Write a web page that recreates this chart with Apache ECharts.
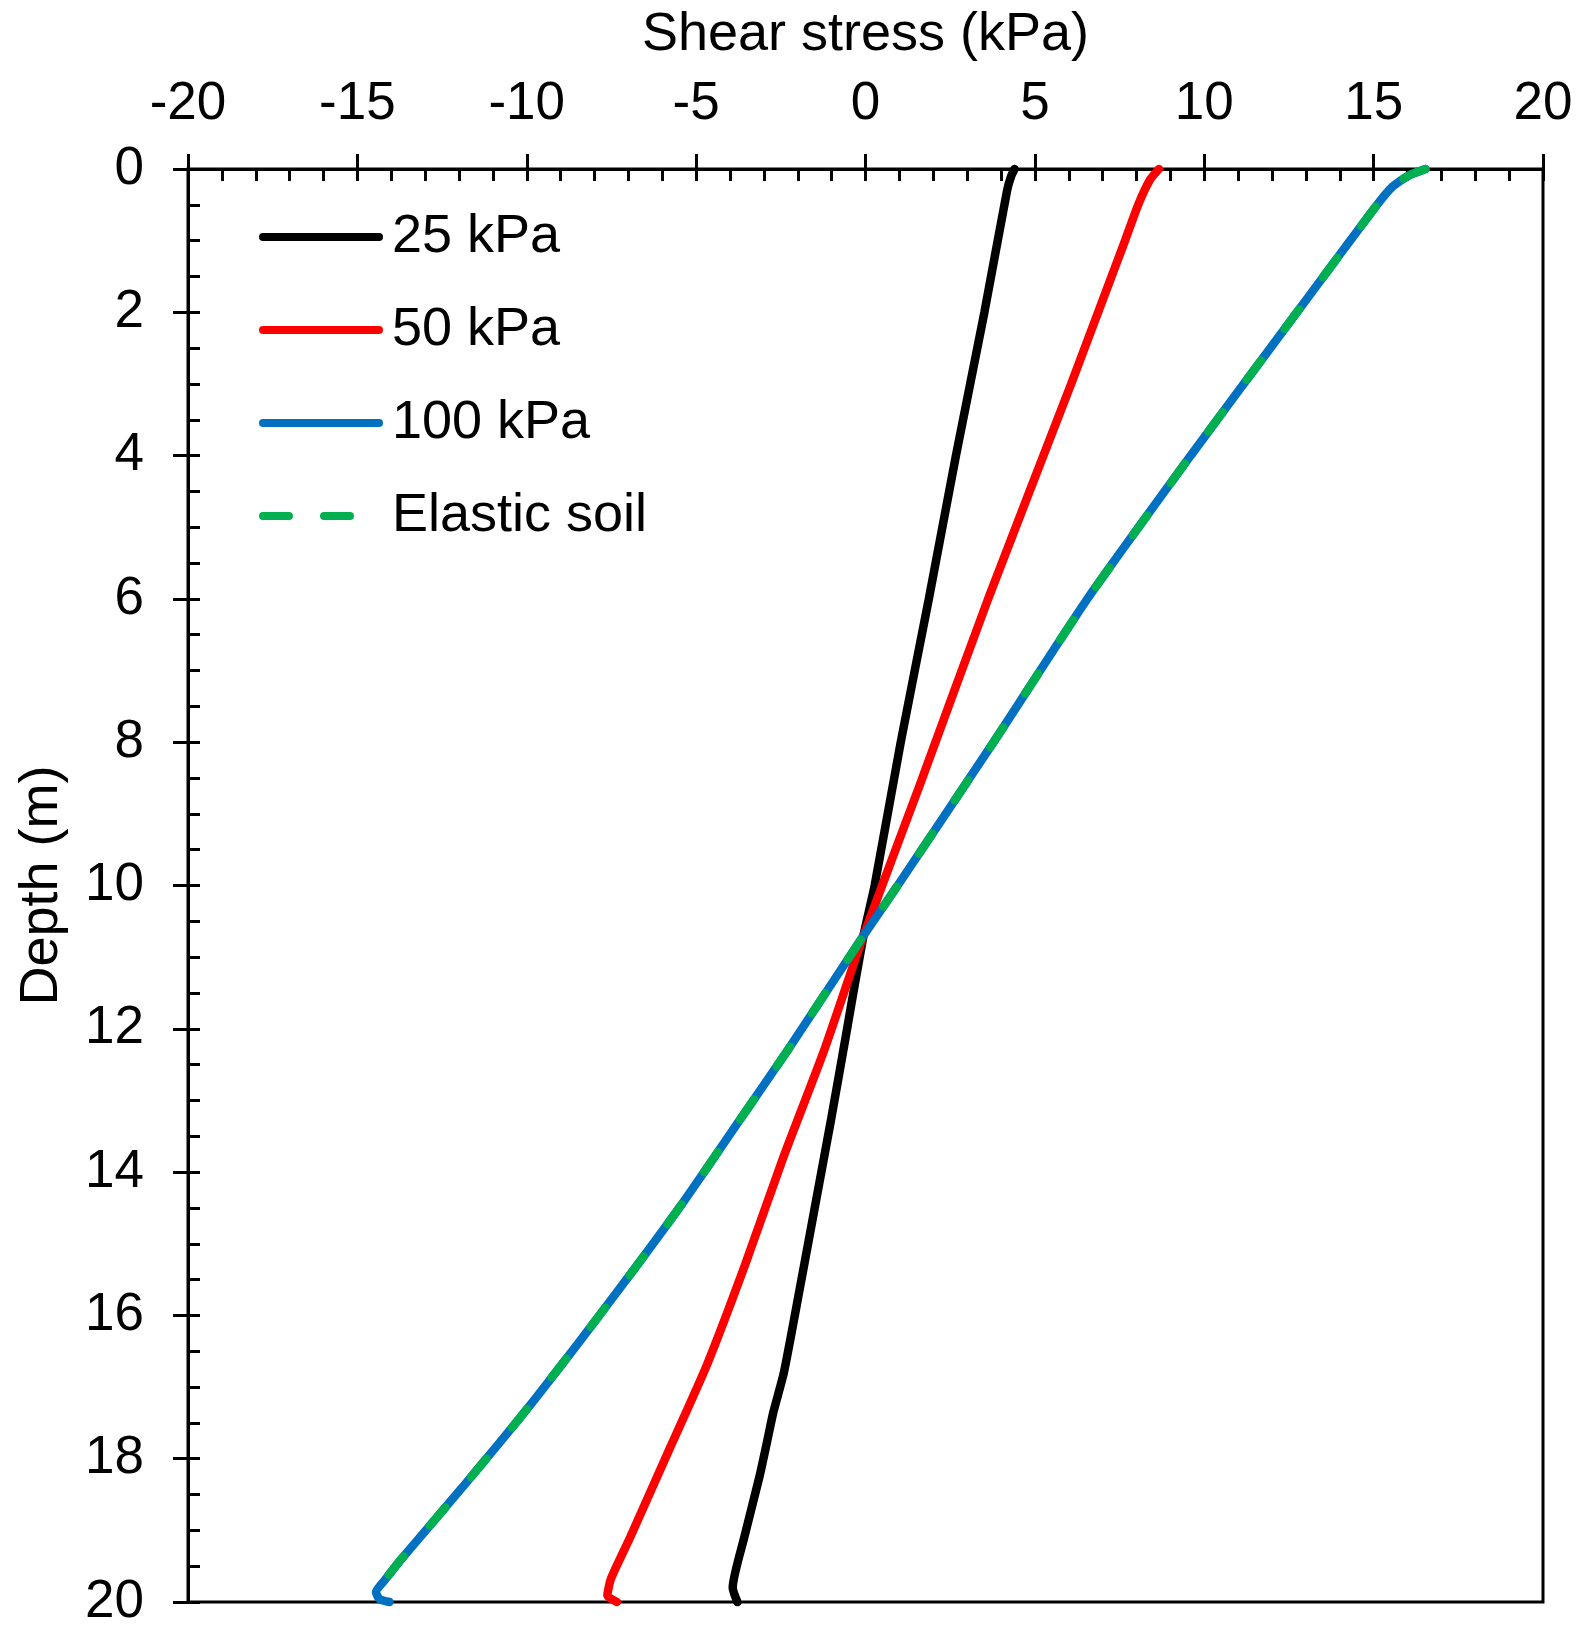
<!DOCTYPE html>
<html>
<head>
<meta charset="utf-8">
<script src="https://cdn.jsdelivr.net/npm/echarts@6/dist/echarts.min.js"></script>
<style>
html,body{margin:0;padding:0;background:#fff;}
#chart{width:1583px;height:1627px;}
</style>
</head>
<body>
<div id="chart"></div>
<script>
// ---- Data ----
const xTicks = [-20, -15, -10, -5, 0, 5, 10, 15, 20];
const yTicks = [0, 2, 4, 6, 8, 10, 12, 14, 16, 18, 20];
const seriesNames = ['25 kPa', '50 kPa', '100 kPa', 'Elastic soil'];

const depth25 = [0, 0.1, 0.3, 2, 4, 6, 8, 10, 10.7, 12.1, 13.25, 14.4, 15.6, 16.8, 17.35, 17.75, 18.25, 19.1, 19.8, 20];
const shear25 = [4.40, 4.30, 4.18, 3.51, 2.67, 1.87, 1.04, 0.27, -0.06, -0.58, -1.01, -1.46, -1.93, -2.41, -2.72, -2.90, -3.13, -3.58, -3.92, -3.78];

const depth50 = [0, 0.15, 0.5, 1, 3, 6, 8.6, 10.7, 12.3, 13.8, 15.3, 16.7, 17.9, 19.1, 19.67, 19.91, 20];
const shear50 = [8.66, 8.40, 8.05, 7.66, 6.07, 3.62, 1.60, -0.06, -1.22, -2.43, -3.56, -4.69, -5.82, -6.95, -7.51, -7.62, -7.34];

const depth100 = [0, 0.1, 0.25, 0.5, 1.1, 2.5, 4, 6, 8, 10, 10.7, 12.3, 13.3, 14.4, 15.4, 16.4, 17.4, 18.4, 19.4, 19.7, 19.86, 19.96, 20];
const shear100 = [16.53, 16.00, 15.55, 15.10, 14.15, 11.95, 9.60, 6.55, 3.78, 0.95, -0.06, -2.30, -3.75, -5.35, -6.90, -8.50, -10.15, -11.90, -13.70, -14.20, -14.45, -14.35, -14.05];

const depthElastic = [0, 0.1, 0.25, 0.5, 1.1, 2.5, 4, 6, 8, 10, 10.7, 12.3, 13.3, 14.4, 15.4, 16.4, 17.4, 18.4, 19.4, 19.7, 19.86, 19.96, 20];
const shearElastic = [16.53, 16.00, 15.55, 15.10, 14.15, 11.95, 9.60, 6.55, 3.78, 0.95, -0.06, -2.30, -3.75, -5.35, -6.90, -8.50, -10.15, -11.90, -13.70, -14.20, -14.45, -14.35, -14.05];

// ---- Chart ----
const FONT = '"Liberation Sans", Arial, Helvetica, sans-serif';
const COLORS = ['#000000', '#FF0000', '#0070C0', '#00B050'];
function pairs(xs, ys) { return xs.map((x, i) => [x, ys[i]]); }

const chart = echarts.init(document.getElementById('chart'), null, {renderer: 'canvas'});

const xMin = xTicks[0], xMax = xTicks[xTicks.length - 1], xInt = xTicks[1] - xTicks[0];
const yMin = yTicks[0], yMax = yTicks[yTicks.length - 1], yInt = yTicks[1] - yTicks[0];

const baseX = {
  type: 'value', min: xMin, max: xMax, interval: xInt, position: 'top',
  splitLine: {show: false}
};
const baseY = {
  type: 'value', min: yMin, max: yMax, interval: yInt, inverse: true, position: 'left',
  splitLine: {show: false}
};

const LW = 8.5;
const DASH = [24, 40];

function lineSeries(idx, xs, ys, dashed) {
  const color = COLORS[idx];
  return {
    name: seriesNames[idx], type: 'line', data: pairs(xs, ys),
    xAxisIndex: 0, yAxisIndex: 0,
    showSymbol: false, symbol: 'none', smooth: 0.2, clip: false,
    lineStyle: dashed
      ? {color: color, width: LW, type: DASH, cap: 'round'}
      : {color: color, width: LW, type: 'solid', cap: 'round'},
    itemStyle: {color: color},
    emphasis: {disabled: true},
    z: 5 + idx
  };
}

const legendData = seriesNames.map((n, i) => ({
  name: n,
  itemStyle: {color: 'rgba(0,0,0,0)', borderWidth: 0, opacity: 0},
  lineStyle: i === 3
    ? {color: COLORS[i], width: 8, type: [26, 35], cap: 'round'}
    : {color: COLORS[i], width: 8, type: 'solid', cap: 'round'}
}));

chart.setOption({
  animation: false,
  backgroundColor: '#ffffff',
  textStyle: {fontFamily: FONT},
  grid: {left: 188, top: 169, right: 40, bottom: 25, containLabel: false, outerBoundsMode: 'none',
         show: true, borderColor: '#000', borderWidth: 3, backgroundColor: 'transparent'},
  legend: {
    orient: 'vertical', left: 259, top: 207, padding: 0,
    itemWidth: 116, itemHeight: 16, itemGap: 33,
    itemStyle: {color: 'rgba(0,0,0,0)', borderWidth: 0, opacity: 0},
    lineStyle: {width: 8},
    textStyle: {fontSize: 54, fontFamily: FONT, color: '#000', lineHeight: 60, padding: [0, 0, 0, 8]},
    data: legendData
  },
  xAxis: [
    Object.assign({}, baseX, {
      name: 'Shear stress (kPa)', nameLocation: 'middle', nameGap: 107, nameMoveOverlap: false,
      nameTextStyle: {fontSize: 54, color: '#000', fontFamily: FONT},
      axisLine: {show: true, onZero: false, lineStyle: {color: '#000', width: 3}},
      axisTick: {show: true, inside: false, length: 15, lineStyle: {color: '#000', width: 3}},
      axisLabel: {show: true, fontSize: 53, color: '#000', margin: 38, fontFamily: FONT}
    }),
    Object.assign({}, baseX, {
      axisLine: {show: false, onZero: false},
      axisTick: {show: true, inside: true, length: 12, lineStyle: {color: '#000', width: 3}},
      minorTick: {show: true, splitNumber: 5, length: 12, lineStyle: {color: '#000', width: 3}},
      axisLabel: {show: false}
    })
  ],
  yAxis: [
    Object.assign({}, baseY, {
      name: 'Depth (m)', nameLocation: 'middle', nameGap: 119, nameRotate: 90, nameMoveOverlap: false,
      nameTextStyle: {fontSize: 54, color: '#000', fontFamily: FONT},
      axisLine: {show: true, onZero: false, lineStyle: {color: '#000', width: 3}},
      axisTick: {show: true, inside: false, length: 15, lineStyle: {color: '#000', width: 3}},
      axisLabel: {show: true, fontSize: 53, color: '#000', margin: 44, fontFamily: FONT}
    }),
    Object.assign({}, baseY, {
      axisLine: {show: false, onZero: false},
      axisTick: {show: true, inside: true, length: 12, lineStyle: {color: '#000', width: 3}},
      minorTick: {show: true, splitNumber: 4, length: 12, lineStyle: {color: '#000', width: 3}},
      axisLabel: {show: false}
    })
  ],
  series: [
    lineSeries(0, shear25, depth25, false),
    lineSeries(1, shear50, depth50, false),
    lineSeries(2, shear100, depth100, false),
    lineSeries(3, shearElastic, depthElastic, true)
  ]
});
</script>
</body>
</html>
